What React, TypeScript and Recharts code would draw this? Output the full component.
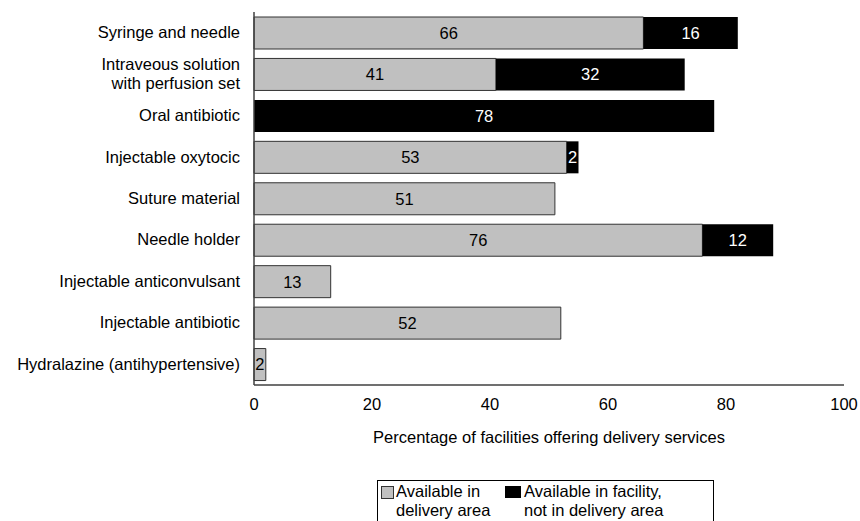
import { BarChart, Bar, XAxis, YAxis, LabelList } from 'recharts';

const categories = [
    'Syringe and needle',
    'Intraveous solution\nwith perfusion set',
    'Oral antibiotic',
    'Injectable oxytocic',
    'Suture material',
    'Needle holder',
    'Injectable anticonvulsant',
    'Injectable antibiotic',
    'Hydralazine (antihypertensive)',
];
const inDeliveryArea = [66, 41, 0, 53, 51, 76, 13, 52, 2];
const notInDeliveryArea = [16, 32, 78, 2, 0, 12, 0, 0, 0];
const xTicks = [0, 20, 40, 60, 80, 100];

const FONT = '"Liberation Sans", Arial, sans-serif';
const GRAY = '#c0c0c0';

const data = categories.map((name, i) => ({
    name,
    area: inDeliveryArea[i],
    facility: notInDeliveryArea[i],
}));

const CategoryTick = (props: any) => {
    const { x, y, payload } = props;
    const lines = String(payload.value).split('\n');
    const lh = 19;
    const start = -((lines.length - 1) * lh) / 2;
    return (
        <text x={x} y={y} textAnchor="end" fontSize={16.5} fontFamily={FONT} fill="#000">
            {lines.map((l, i) => (
                <tspan key={i} x={x} dy={i === 0 ? start + 5.5 : lh}>
                    {l}
                </tspan>
            ))}
        </text>
    );
};

const hideZero = (v: any) => (v ? v : '');

// legend drawn outside the chart so it doesn't eat into the plot area
const LegendBox = () => (
    <div
        style={{
            position: 'absolute',
            left: 377,
            top: 480,
            width: 337,
            height: 60,
            border: '1px solid #000',
            fontFamily: FONT,
            fontSize: 16.5,
            lineHeight: '19px',
            color: '#000',
            display: 'flex',
            padding: '1px 0 0 3px',
            boxSizing: 'border-box',
        }}
    >
        <div style={{ display: 'flex', width: 124 }}>
            <span
                style={{
                    width: 11,
                    height: 11,
                    background: GRAY,
                    border: '1px solid #333',
                    marginTop: 4,
                    marginRight: 2,
                    flex: 'none',
                }}
            />
            <div>
                Available in
                <br />
                delivery area
            </div>
        </div>
        <div style={{ display: 'flex' }}>
            <span
                style={{
                    width: 16,
                    height: 12,
                    background: '#000',
                    marginTop: 4,
                    marginRight: 3,
                    flex: 'none',
                }}
            />
            <div>
                Available in facility,
                <br />
                not in delivery area
            </div>
        </div>
    </div>
);

export default function App() {
    return (
        <div
            style={{
                position: 'absolute',
                left: 0,
                top: 0,
                width: 860,
                height: 521,
                overflow: 'hidden',
                background: '#fff',
            }}
        >
            <BarChart
                width={860}
                height={521}
                data={data}
                layout="vertical"
                margin={{ top: 12, right: 16, left: 0, bottom: 78 }}
                barSize={32}
            >
                <XAxis
                    type="number"
                    domain={[0, 100]}
                    ticks={xTicks}
                    interval={0}
                    tickLine={false}
                    tickSize={0}
                    tickMargin={13}
                    height={58}
                    axisLine={{ stroke: '#404040', strokeWidth: 1.5 }}
                    tick={{ fill: '#000', fontSize: 16.5, fontFamily: FONT }}
                    label={{
                        value: 'Percentage of facilities offering delivery services',
                        position: 'insideBottom',
                        offset: 0,
                        fill: '#000',
                        fontSize: 16.5,
                        fontFamily: FONT,
                    }}
                />
                <YAxis
                    type="category"
                    dataKey="name"
                    width={254}
                    tickLine={false}
                    tickSize={0}
                    tickMargin={14}
                    interval={0}
                    axisLine={{ stroke: '#404040', strokeWidth: 1.5 }}
                    tick={<CategoryTick />}
                />
                <Bar dataKey="area" stackId="a" fill={GRAY} stroke="#333" strokeWidth={1} isAnimationActive={false}>
                    <LabelList
                        dataKey="area"
                        position="center"
                        formatter={hideZero}
                        fill="#000"
                        fontSize={16.5}
                        fontFamily={FONT}
                    />
                </Bar>
                <Bar dataKey="facility" stackId="a" fill="#000" isAnimationActive={false}>
                    <LabelList
                        dataKey="facility"
                        position="center"
                        formatter={hideZero}
                        fill="#fff"
                        fontSize={16.5}
                        fontFamily={FONT}
                    />
                </Bar>
            </BarChart>
            <LegendBox />
        </div>
    );
}
